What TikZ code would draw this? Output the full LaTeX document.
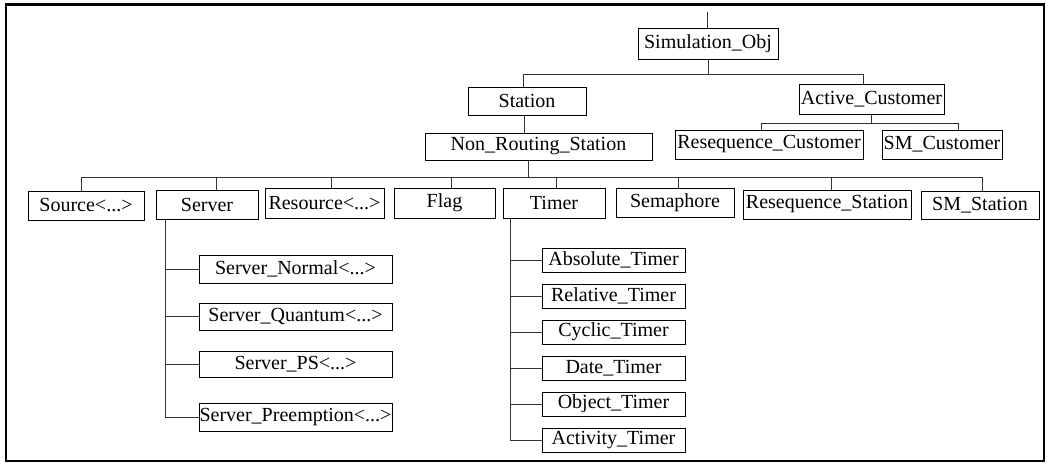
\documentclass[tikz,border=0pt]{standalone}
\usepackage{fontspec}
\setmainfont{Liberation Serif}
\begin{document}
\begin{tikzpicture}[x=1pt,y=-1pt,
  bx/.style={draw, line width=1pt, inner sep=0pt, font=\fontsize{20}{24}\selectfont, anchor=center},
  ln/.style={line width=1pt, draw=black!80},
  frame/.style={line width=2.6pt}]
\useasboundingbox (0,0) rectangle (1049,466);
\draw[frame] (6,4.5) rectangle (1044,461);

% top levels
\node[bx, minimum width=140pt, minimum height=31pt] (simobj) at (708,43.5) {Simulation\_Obj};
\node[bx, minimum width=118pt, minimum height=28pt] (station) at (527,101) {Station};
\node[bx, minimum width=227pt, minimum height=27pt] (nrs) at (538.5,146.5) {Non\_Routing\_Station};
\node[bx, minimum width=145pt, minimum height=30pt] (actc) at (871.5,99) {Active\_Customer};
\node[bx, minimum width=188pt, minimum height=29pt] (rescust) at (769,144.5) {Resequence\_Customer};
\node[bx, minimum width=120pt, minimum height=29pt] (smcust) at (942,144.5) {SM\_Customer};

% station row
\node[bx, minimum width=116pt, minimum height=29pt] (source) at (86,205.5) {Source<...>};
\node[bx, minimum width=102pt, minimum height=29pt] (server) at (207,204.5) {Server};
\node[bx, minimum width=119pt, minimum height=30pt] (resource) at (324.5,203) {Resource<...>};
\node[bx, minimum width=101pt, minimum height=30pt] (flag) at (444.5,203) {Flag};
\node[bx, minimum width=102pt, minimum height=30pt] (timer) at (554,203) {Timer};
\node[bx, minimum width=118pt, minimum height=29pt] (sema) at (675,202.5) {Semaphore};
\node[bx, minimum width=168pt, minimum height=29pt] (resst) at (827,204.5) {Resequence\_Station};
\node[bx, minimum width=118pt, minimum height=28pt] (smst) at (980,205) {SM\_Station};

% server children
\node[bx, minimum width=193pt, minimum height=28pt] (sn) at (295.5,269) {Server\_Normal<...>};
\node[bx, minimum width=193pt, minimum height=27pt] (sq) at (295.5,316.5) {Server\_Quantum<...>};
\node[bx, minimum width=193pt, minimum height=26pt] (sps) at (295.5,364) {Server\_PS<...>};
\node[bx, minimum width=193pt, minimum height=28pt] (spr) at (295.5,417) {Server\_Preemption<...>};

% timer children
\node[bx, minimum width=143pt, minimum height=24pt] (tabs) at (613.5,260) {Absolute\_Timer};
\node[bx, minimum width=143pt, minimum height=24pt] (trel) at (613.5,296) {Relative\_Timer};
\node[bx, minimum width=143pt, minimum height=24pt] (tcyc) at (613.5,332) {Cyclic\_Timer};
\node[bx, minimum width=143pt, minimum height=24pt] (tdat) at (613.5,368) {Date\_Timer};
\node[bx, minimum width=143pt, minimum height=24pt] (tobj) at (613.5,404) {Object\_Timer};
\node[bx, minimum width=143pt, minimum height=24pt] (tact) at (613.5,440) {Activity\_Timer};

% connectors: top
\coordinate (top) at (707,12);
\draw[ln] (top) -- (top |- simobj.north);
\coordinate (b1) at ([yshift=-15]simobj.south);
\draw[ln] (simobj.south) -- (b1);
\draw[ln] ([xshift=-4]station.north) |- (b1) -| ([xshift=-8.5]actc.north);
\draw[ln] ([xshift=-3]station.south) -- ([xshift=-3]station.south |- nrs.north);

% active customer
\coordinate (b2) at ([yshift=-9]actc.south);
\draw[ln] (actc.south) -- (b2);
\draw[ln] ([xshift=-8]rescust.north) |- (b2) -| ([xshift=16]smcust.north);

% non routing station bus
\coordinate (b3) at ([xshift=-10.5,yshift=-17]nrs.south);
\draw[ln] ([xshift=-10.5]nrs.south) -- (b3);
\draw[ln] ([xshift=-5]source.north) |- (b3) -| ([xshift=2]smst.north);
\foreach \n/\d in {server/9, resource/6.5, flag/6.5, timer/2, sema/3, resst/4}
  \draw[ln] ([xshift=\d]\n.north) -- ([xshift=\d]\n.north |- b3);

% server subtree
\coordinate (svl) at ([xshift=-42]server.south);
\draw[ln] (svl) |- (spr.west);
\foreach \n in {sn, sq, sps}
  \draw[ln] (\n.west) -- (\n.west -| svl);

% timer subtree
\coordinate (tml) at ([xshift=-44]timer.south);
\draw[ln] (tml) |- (tact.west);
\foreach \n in {tabs, trel, tcyc, tdat, tobj}
  \draw[ln] (\n.west) -- (\n.west -| tml);
\end{tikzpicture}
\end{document}
